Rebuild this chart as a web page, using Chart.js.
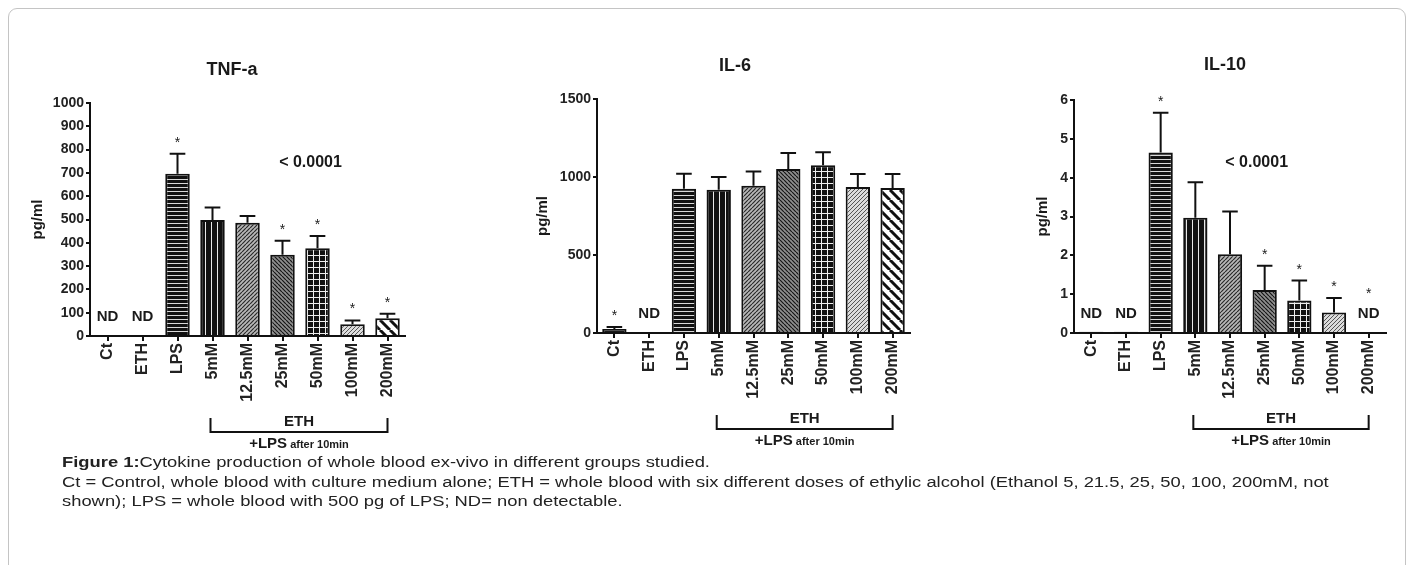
<!DOCTYPE html>
<html>
<head>
<meta charset="utf-8">
<script src="https://cdn.jsdelivr.net/npm/chart.js@4.4.1/dist/chart.umd.min.js"></script>
<style>
  body { margin: 0; background: #fff; width: 1413px; height: 565px; overflow: hidden; position: relative;
         font-family: "Liberation Sans", Arial, sans-serif; }
  #frame { position: absolute; left: 8px; top: 8px; width: 1396px; height: 575px;
           border: 1px solid #c4c4c4; border-radius: 9px; }
  canvas { position: absolute; top: 0; }
  #caption { position: absolute; left: 62px; top: 452px; font-size: 15.5px; line-height: 19.5px; color: #222;
             white-space: nowrap; transform: scaleX(1.185); transform-origin: 0 0; }
</style>
</head>
<body>
<div id="frame"></div>
<canvas id="tnf" width="440" height="470" style="left:10px"></canvas>
<canvas id="il6" width="440" height="470" style="left:500px"></canvas>
<canvas id="il10" width="428" height="470" style="left:985px"></canvas>
<div id="caption"><b>Figure 1:</b>Cytokine production of whole blood ex-vivo in different groups studied.<br>Ct = Control, whole blood with culture medium alone; ETH = whole blood with six different doses of ethylic alcohol (Ethanol 5, 21.5, 25, 50, 100, 200mM, not<br>shown); LPS = whole blood with 500 pg of LPS; ND= non detectable.</div>
<script>
// categories, shared by the three panels
const categories = ["Ct", "ETH", "LPS", "5mM", "12.5mM", "25mM", "50mM", "100mM", "200mM"];

// TNF-a (pg/ml): mean, top of error bar, significance star, not detectable
const tnfMeans = [null, null, 696, 498, 486, 349, 377, 50, 76];
const tnfErr   = [null, null, 782, 552, 515, 409, 429, 67, 96];
const tnfStars = [0, 0, 1, 0, 0, 1, 1, 1, 1];
const tnfND    = [1, 1, 0, 0, 0, 0, 0, 0, 0];
const tnfTicks = [0, 100, 200, 300, 400, 500, 600, 700, 800, 900, 1000];

// IL-6 (pg/ml)
const il6Means = [26, null, 925, 919, 944, 1051, 1075, 936, 929];
const il6Err   = [38, null, 1021, 1000, 1036, 1154, 1158, 1019, 1019];
const il6Stars = [1, 0, 0, 0, 0, 0, 0, 0, 0];
const il6ND    = [0, 1, 0, 0, 0, 0, 0, 0, 0];
const il6Ticks = [0, 500, 1000, 1500];

// IL-10 (pg/ml)
const il10Means = [0.03, 0.03, 4.65, 2.97, 2.03, 1.11, 0.84, 0.53, null];
const il10Err   = [null, null, 5.67, 3.88, 3.13, 1.73, 1.35, 0.90, null];
const il10Stars = [0, 0, 1, 0, 0, 1, 1, 1, 1];
const il10ND    = [1, 1, 0, 0, 0, 0, 0, 0, 1];
const il10Ticks = [0, 1, 2, 3, 4, 5, 6];

const FONT = '"Liberation Sans", Arial, sans-serif';

// motifs de remplissage des barres
function makePattern(kind) {
  const c = document.createElement("canvas");
  const g = c.getContext("2d");
  let s = 6;
  if (kind === "hlines") {
    c.width = 4; c.height = 4;
    g.fillStyle = "#111"; g.fillRect(0, 0, 4, 4);
    g.fillStyle = "#d8d8d8"; g.fillRect(0, 3, 4, 1);
  } else if (kind === "vlines") {
    c.width = 6; c.height = 6;
    g.fillStyle = "#111"; g.fillRect(0, 0, 6, 6);
    g.fillStyle = "#e8e8e8"; g.fillRect(3, 0, 1, 6);
  } else if (kind === "grid") {
    c.width = 6; c.height = 6;
    g.fillStyle = "#111"; g.fillRect(0, 0, 6, 6);
    g.fillStyle = "#eee"; g.fillRect(3, 0, 1, 6); g.fillRect(0, 3, 6, 1);
  } else {
    let bg = "#bbb", fg = "#333", lw = 1.2, dir = 1;
    if (kind === "diagFine") { s = 4; bg = "#b8b8b8"; fg = "#2a2a2a"; dir = 1; }
    if (kind === "diagBack") { s = 4; bg = "#8e8e8e"; fg = "#151515"; dir = -1; }
    if (kind === "dots")     { s = 4; bg = "#dcdcdc"; fg = "#555"; lw = 1; dir = 1; }
    if (kind === "diagWide") { s = 10; bg = "#fff"; fg = "#111"; lw = 3; dir = -1; }
    c.width = s; c.height = s;
    g.fillStyle = bg; g.fillRect(0, 0, s, s);
    g.strokeStyle = fg; g.lineWidth = lw;
    g.beginPath();
    for (let k = -1; k <= 1; k++) {
      if (dir > 0) { g.moveTo(k * s, s); g.lineTo(k * s + s, 0); }
      else { g.moveTo(k * s, 0); g.lineTo(k * s + s, s); }
    }
    g.stroke();
    if (kind === "dots") {
      g.fillStyle = bg; g.fillRect(0, 0, s / 2, s / 2);
    }
  }
  return g.createPattern(c, "repeat");
}

const barFills = [
  "#1a1a1a", "#1a1a1a",
  makePattern("hlines"), makePattern("vlines"), makePattern("diagFine"),
  makePattern("diagBack"), makePattern("grid"), makePattern("dots"), makePattern("diagWide")
];

// annotations: barres d'erreur, étoiles, ND, titres, accolade ETH
function makeAnnot(cfg) {
  return {
    id: "annot_" + cfg.id,
    afterDatasetsDraw(chart) {
      const { ctx, chartArea: a, scales: { x, y } } = chart;
      const meta = chart.getDatasetMeta(0);
      ctx.save();
      ctx.strokeStyle = "#111";
      ctx.fillStyle = "#1a1a1a";
      ctx.lineWidth = 2;

      // error bars (upper only)
      cfg.err.forEach((e, i) => {
        if (e == null || cfg.means[i] == null) return;
        const bar = meta.data[i];
        const yt = y.getPixelForValue(e);
        const hw = bar.width * 0.32;
        ctx.beginPath();
        ctx.moveTo(bar.x, bar.y);
        ctx.lineTo(bar.x, yt);
        ctx.moveTo(bar.x - hw, yt);
        ctx.lineTo(bar.x + hw, yt);
        ctx.stroke();
      });

      // ND labels
      const ndY = a.bottom - 19;
      ctx.font = "bold 15px " + FONT;
      ctx.textAlign = "center";
      ctx.textBaseline = "middle";
      cfg.nd.forEach((n, i) => {
        if (n) ctx.fillText("ND", x.getPixelForValue(i), ndY);
      });

      // stars
      ctx.font = "14px " + FONT;
      ctx.textBaseline = "alphabetic";
      cfg.stars.forEach((st, i) => {
        if (!st) return;
        let py;
        if (cfg.err[i] != null) py = y.getPixelForValue(cfg.err[i]) - 15;
        else if (cfg.means[i] != null && !cfg.nd[i]) py = y.getPixelForValue(cfg.means[i]) - 15;
        else py = ndY - 24;
        ctx.fillText("*", x.getPixelForValue(i), py + 8);
      });

      // p value
      if (cfg.p) {
        ctx.font = "bold 16px " + FONT;
        ctx.textBaseline = "middle";
        ctx.fillText("< 0.0001", x.getPixelForValue(cfg.p[0]), y.getPixelForValue(cfg.p[1]));
      }

      // title
      ctx.font = "bold 18px " + FONT;
      ctx.textBaseline = "middle";
      ctx.fillText(cfg.title, cfg.titleX - cfg.left, cfg.titleY);

      // y axis title
      ctx.save();
      ctx.translate(a.left - cfg.yTitleOff, (a.top + a.bottom) / 2);
      ctx.rotate(-Math.PI / 2);
      ctx.font = "bold 15px " + FONT;
      ctx.fillText("pg/ml", 0, 0);
      ctx.restore();

      // bracket ETH
      const bx1 = x.getPixelForValue(3) - 2, bx2 = x.getPixelForValue(8);
      const bt = a.bottom + 82, bb = a.bottom + 96;
      ctx.beginPath();
      ctx.moveTo(bx1, bt); ctx.lineTo(bx1, bb); ctx.lineTo(bx2, bb); ctx.lineTo(bx2, bt);
      ctx.stroke();
      const bc = (bx1 + bx2) / 2;
      ctx.font = "bold 15px " + FONT;
      ctx.fillText("ETH", bc, a.bottom + 86);
      const big = "bold 15px " + FONT, small = "bold 11px " + FONT;
      ctx.font = big; const w1 = ctx.measureText("+LPS").width;
      ctx.font = small; const w2 = ctx.measureText(" after 10min").width;
      const sx = bc - (w1 + w2) / 2, ly = a.bottom + 108;
      ctx.textAlign = "left";
      ctx.font = big; ctx.fillText("+LPS", sx, ly);
      ctx.font = small; ctx.fillText(" after 10min", sx + w1, ly + 1);
      ctx.restore();
    }
  };
}

function makeChart(cfg) {
  return new Chart(document.getElementById(cfg.id), {
    type: "bar",
    data: {
      labels: categories,
      datasets: [{
        data: cfg.means,
        backgroundColor: barFills,
        borderColor: "#111",
        borderWidth: 2,
        categoryPercentage: 1,
        barPercentage: 0.7
      }]
    },
    options: {
      responsive: false,
      animation: false,
      devicePixelRatio: 1,
      layout: { padding: cfg.pad },
      plugins: { legend: { display: false }, tooltip: { enabled: false } },
      scales: {
        x: {
          grid: { offset: false, drawOnChartArea: false, tickLength: 5, color: "#111", lineWidth: 2 },
          border: { color: "#111", width: 2 },
          ticks: { minRotation: 90, maxRotation: 90, autoSkip: false, padding: 2, color: "#222",
                   font: { family: FONT, weight: "bold", size: 16 } },
          afterFit(s) { s.height = 80; }
        },
        y: {
          min: 0,
          max: cfg.ticks[cfg.ticks.length - 1],
          afterBuildTicks(s) { s.ticks = cfg.ticks.map(v => ({ value: v })); },
          grid: { drawOnChartArea: false, tickLength: 4, color: "#111", lineWidth: 2 },
          border: { color: "#111", width: 2 },
          ticks: { padding: 2, color: "#222", font: { family: FONT, weight: "bold", size: 14 },
                   callback: v => String(v) },
          afterFit(s) { s.width = 50; }
        }
      }
    },
    plugins: [makeAnnot(cfg)]
  });
}

makeChart({
  id: "tnf", left: 10, title: "TNF-a", titleX: 232, titleY: 70, yTitleOff: 52,
  means: tnfMeans, err: tnfErr, stars: tnfStars, nd: tnfND, ticks: tnfTicks,
  p: [5.8, 745],
  pad: { left: 30, right: 45, top: 103, bottom: 54 }
});
makeChart({
  id: "il6", left: 500, title: "IL-6", titleX: 735, titleY: 66, yTitleOff: 54,
  means: il6Means, err: il6Err, stars: il6Stars, nd: il6ND, ticks: il6Ticks,
  p: null,
  pad: { left: 47, right: 30, top: 99, bottom: 57 }
});
makeChart({
  id: "il10", left: 985, title: "IL-10", titleX: 1225, titleY: 65, yTitleOff: 31,
  means: il10Means, err: il10Err, stars: il10Stars, nd: il10ND, ticks: il10Ticks,
  p: [4.77, 4.39],
  pad: { left: 39, right: 27, top: 100, bottom: 57 }
});
</script>
</body>
</html>
